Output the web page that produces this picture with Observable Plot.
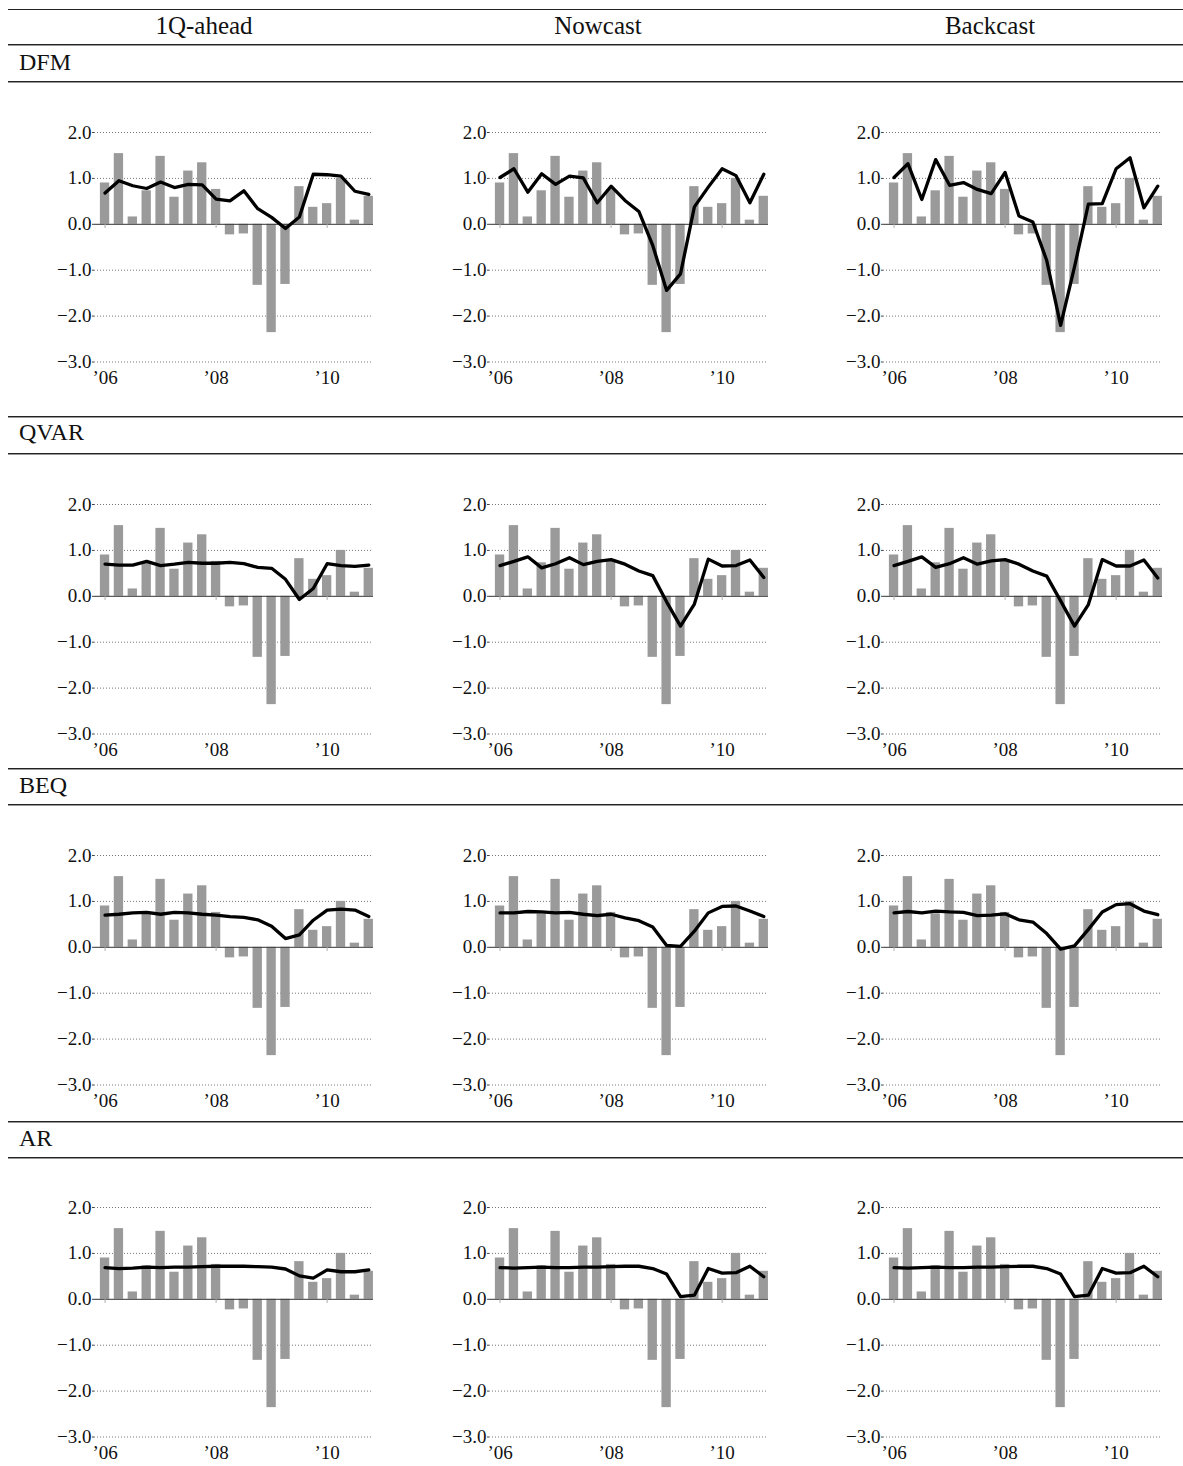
<!DOCTYPE html>
<html>
<head>
<meta charset="utf-8">
<script src="https://cdn.jsdelivr.net/npm/d3@7"></script>
<script src="https://cdn.jsdelivr.net/npm/@observablehq/plot@0.6"></script>
<style>
  html, body { margin: 0; padding: 0; background: #fff; }
  #page { position: relative; width: 1183px; height: 1466px; font-family: "Liberation Serif", serif; color: #111; overflow: hidden; }
  .rule { position: absolute; left: 8px; right: 0; height: 1px; background: #222; }
  .rule2 { position: absolute; left: 8px; right: 0; height: 1px; background: #222; box-shadow: 0 1px 0 #999; }
  .colhead { position: absolute; top: 11px; width: 300px; text-align: center; font-size: 25px; line-height: 30px; }
  .rowhead { position: absolute; left: 19px; font-size: 24px; line-height: 30px; }
  .panel { position: absolute; }
</style>
</head>
<body>
<div id="page"></div>
<script>
// ---- data ----
const quarters = ["2006Q1","2006Q2","2006Q3","2006Q4","2007Q1","2007Q2","2007Q3","2007Q4",
                  "2008Q1","2008Q2","2008Q3","2008Q4","2009Q1","2009Q2","2009Q3","2009Q4",
                  "2010Q1","2010Q2","2010Q3","2010Q4"];
const actual = [0.90,1.54,0.16,0.73,1.48,0.59,1.16,1.34,0.76,-0.23,-0.21,-1.33,-2.36,-1.31,0.82,0.37,0.45,1.00,0.09,0.61];

const horizons = ["1Q-ahead","Nowcast","Backcast"];
const models = ["DFM","QVAR","BEQ","AR"];

const dfm1Q   = [0.68,0.95,0.84,0.78,0.92,0.80,0.87,0.86,0.55,0.51,0.73,0.34,0.15,-0.09,0.16,1.09,1.08,1.05,0.72,0.65];
const dfmNow  = [1.02,1.21,0.70,1.10,0.87,1.05,1.01,0.47,0.83,0.52,0.28,-0.46,-1.44,-1.08,0.38,0.81,1.21,1.06,0.47,1.09];
const dfmBack = [1.02,1.32,0.54,1.41,0.85,0.91,0.76,0.67,1.13,0.18,0.05,-0.79,-2.20,-0.93,0.44,0.45,1.21,1.45,0.36,0.83];

const qvar1Q   = [0.70,0.68,0.68,0.76,0.67,0.70,0.74,0.72,0.72,0.74,0.71,0.63,0.61,0.37,-0.07,0.17,0.71,0.67,0.65,0.68];
const qvarNow  = [0.67,0.76,0.86,0.62,0.71,0.84,0.69,0.76,0.80,0.70,0.55,0.45,-0.12,-0.65,-0.17,0.81,0.66,0.67,0.79,0.41];
const qvarBack = [0.67,0.76,0.86,0.63,0.71,0.84,0.70,0.77,0.80,0.70,0.55,0.44,-0.10,-0.65,-0.18,0.80,0.66,0.66,0.79,0.40];

const beq1Q   = [0.70,0.72,0.75,0.76,0.72,0.76,0.75,0.72,0.70,0.67,0.65,0.60,0.46,0.19,0.27,0.59,0.81,0.83,0.81,0.67];
const beqNow  = [0.75,0.75,0.78,0.77,0.75,0.76,0.72,0.69,0.72,0.64,0.58,0.44,0.04,0.02,0.35,0.75,0.89,0.90,0.79,0.67];
const beqBack = [0.75,0.78,0.75,0.79,0.77,0.76,0.69,0.70,0.73,0.60,0.55,0.30,-0.04,0.03,0.39,0.77,0.93,0.95,0.79,0.71];

const ar1Q   = [0.69,0.67,0.68,0.70,0.69,0.70,0.70,0.71,0.72,0.72,0.72,0.71,0.70,0.66,0.51,0.46,0.64,0.60,0.60,0.64];
const arNow  = [0.69,0.68,0.69,0.70,0.69,0.69,0.70,0.70,0.71,0.72,0.72,0.67,0.55,0.06,0.09,0.67,0.57,0.58,0.72,0.49];
const arBack = [0.69,0.68,0.69,0.70,0.69,0.69,0.70,0.70,0.71,0.72,0.72,0.67,0.55,0.06,0.09,0.67,0.57,0.58,0.72,0.49];

const forecasts = [
  [dfm1Q, dfmNow, dfmBack],
  [qvar1Q, qvarNow, qvarBack],
  [beq1Q, beqNow, beqBack],
  [ar1Q, arNow, arBack]
];

const yTicks = [-3, -2, -1, 0, 1, 2];
const xTicks = [2006, 2008, 2010];

// ---- layout ----
const colAxisX = [94, 489, 883];
const colHeadCenter = [204, 598, 990];
const rowTop = [132.3, 503.7, 855.3, 1207.3];
const rowHeadTop = [47, 417, 770, 1123];
const thinRules = [9];
const headRules = [44, 81, 416, 453, 768, 804, 1121, 1157];

const M = { left: 45, right: 5, top: 8, bottom: 30 };
const innerW = 279, innerH = 229.5;
const FONT = "Liberation Serif";
const FSIZE = 19;

const toT = q => +q.slice(0, 4) + (+q.slice(5) - 1) / 4;

function panel(series) {
  const data = quarters.map((q, i) => ({ t: toT(q), actual: actual[i], f: series[i] }));
  return Plot.plot({
    width: M.left + innerW + M.right,
    height: M.top + innerH + M.bottom,
    marginLeft: M.left, marginRight: M.right, marginTop: M.top, marginBottom: M.bottom,
    x: { domain: [2005.81, 2010.835], label: null },
    y: { domain: [-3, 2], label: null },
    style: { background: "transparent", overflow: "visible", fontFamily: FONT, fontSize: FSIZE + "px" },
    marks: [
      Plot.gridY({ ticks: yTicks.filter(v => v !== 0), stroke: "#777", strokeOpacity: 1, strokeDasharray: "1,2" }),
      Plot.rectY(data, { x1: d => d.t - 0.084, x2: d => d.t + 0.084, y1: 0, y2: "actual", fill: "#9a9a9a" }),
      Plot.ruleY([0], { stroke: "#333" }),
      Plot.ruleX(xTicks, { y1: 0, y2: -0.09, stroke: "#aaa" }),
      Plot.axisY({ ticks: yTicks, tickFormat: d3.format(".1f"), tickSize: 2, tickPadding: 1, line: true, stroke: "#444",
                   fontFamily: FONT, fontSize: FSIZE, fill: "#111" }),
      Plot.axisX({ ticks: xTicks, tickFormat: d => "\u2019" + String(d).slice(2), tickSize: 0, tickPadding: 8,
                   fontFamily: FONT, fontSize: FSIZE, fill: "#111" }),
      Plot.line(data, { x: "t", y: "f", stroke: "#000", strokeWidth: 3.3 })
    ]
  });
}

const page = document.getElementById("page");
function addDiv(cls, styles, text) {
  const d = document.createElement("div");
  d.className = cls;
  Object.assign(d.style, styles);
  if (text != null) d.textContent = text;
  page.appendChild(d);
  return d;
}

thinRules.forEach(y => addDiv("rule", { top: y + "px" }));
headRules.forEach(y => addDiv("rule2", { top: y + "px" }));
horizons.forEach((h, j) => addDiv("colhead", { left: (colHeadCenter[j] - 150) + "px" }, h));
models.forEach((m, i) => addDiv("rowhead", { top: rowHeadTop[i] + "px" }, m));

models.forEach((m, i) => {
  horizons.forEach((h, j) => {
    const wrap = addDiv("panel", { left: (colAxisX[j] - M.left) + "px", top: (rowTop[i] - M.top) + "px" });
    wrap.appendChild(panel(forecasts[i][j]));
  });
});
</script>
</body>
</html>
